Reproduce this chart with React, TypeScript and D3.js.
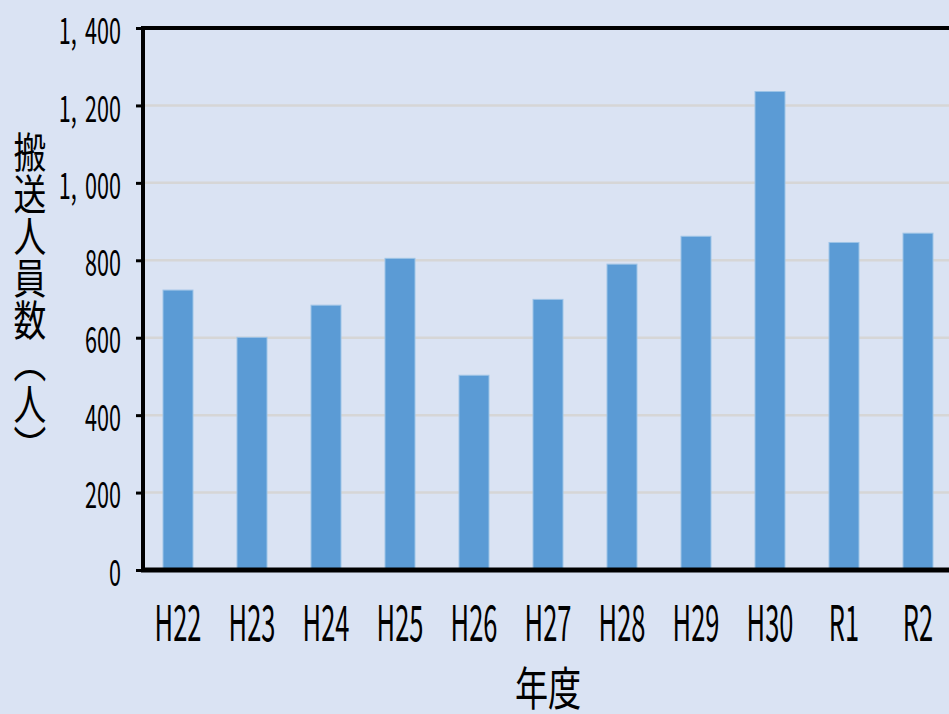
import React, { useEffect, useRef } from 'react';
import * as d3 from 'd3';

const categories = ['H22', 'H23', 'H24', 'H25', 'H26', 'H27', 'H28', 'H29', 'H30', 'R1', 'R2'];
const values = [723, 601, 684, 805, 503, 699, 790, 862, 1236, 846, 870];
const yTickValues = [0, 200, 400, 600, 800, 1000, 1200, 1400];
const yLabel = '搬送人員数（人）';
const xLabel = '年度';

const width = 949;
const height = 714;
const FONT = '"Noto Sans CJK JP", "Noto Sans", sans-serif';

const App: React.FC = () => {
  const ref = useRef<SVGSVGElement>(null);

  useEffect(() => {
    const svg = d3.select(ref.current);
    svg.selectAll('*').remove(); // clear before redraw

    const left = 141;
    const right = 955; // plot runs off the right edge
    const top = 28;
    const bottom = 570;

    const x = d3.scaleBand<string>()
      .domain(categories)
      .range([left, right])
      .paddingInner(0.595)
      .paddingOuter(0.2975);

    const y = d3.scaleLinear()
      .domain([0, 1400])
      .range([bottom, top]);

    svg.append('rect')
      .attr('width', width)
      .attr('height', height)
      .attr('fill', '#dae3f3');

    // gridlines
    svg.append('g')
      .selectAll('line')
      .data(yTickValues.filter(d => d > 0 && d < 1400))
      .enter()
      .append('line')
      .attr('x1', left)
      .attr('x2', width)
      .attr('y1', d => y(d))
      .attr('y2', d => y(d))
      .attr('stroke', '#d6d6d6')
      .attr('stroke-width', 2.5);

    // bars
    svg.append('g')
      .selectAll('rect')
      .data(values)
      .enter()
      .append('rect')
      .attr('x', (_, i) => x(categories[i])!)
      .attr('y', d => y(d))
      .attr('width', x.bandwidth())
      .attr('height', d => bottom - y(d))
      .attr('fill', '#5b9bd5')
      .attr('stroke', '#9dc3e6')
      .attr('stroke-width', 1);

    // frame: top, bottom
    svg.append('line')
      .attr('x1', left).attr('x2', width)
      .attr('y1', y(1400)).attr('y2', y(1400))
      .attr('stroke', '#000').attr('stroke-width', 4);
    svg.append('line')
      .attr('x1', left).attr('x2', width)
      .attr('y1', y(0)).attr('y2', y(0))
      .attr('stroke', '#000').attr('stroke-width', 5);

    // y axis
    const fmt = d3.format(',');
    const yAxis = d3.axisLeft(y)
      .tickValues(yTickValues)
      .tickSize(7)
      .tickFormat(d => fmt(d as number));

    const gy = svg.append('g')
      .attr('transform', `translate(${left + 2},0)`)
      .call(yAxis);
    gy.select('.domain')
      .attr('stroke', '#000')
      .attr('stroke-width', 4)
      .attr('d', `M0,${top - 2}V${bottom + 2}`);
    gy.selectAll('.tick line')
      .attr('stroke', '#000')
      .attr('stroke-width', 3);
    gy.selectAll<SVGTextElement, number>('.tick text')
      .attr('x', null)
      .attr('dy', null)
      .attr('fill', '#000')
      .style('font-family', FONT)
      .style('font-size', '36px')
      .attr('text-anchor', 'end')
      .attr('dominant-baseline', 'central')
      .attr('transform', 'translate(-22,0) scale(0.6,1)')
      .each(function (d) {
        // wider gap after the thousands comma, as in the source
        const parts = fmt(d).split(',');
        if (parts.length < 2) return;
        const t = d3.select(this);
        t.text(null);
        t.append('tspan').text(parts[0] + ',');
        t.append('tspan').attr('dx', 14).text(parts[1]);
      });

    // x labels
    svg.append('g')
      .selectAll('text')
      .data(categories)
      .enter()
      .append('text')
      .attr('transform', d => `translate(${x(d)! + x.bandwidth() / 2},641) scale(0.52,1)`)
      .attr('text-anchor', 'middle')
      .style('font-family', FONT)
      .style('font-size', '49px')
      .attr('fill', '#000')
      .text(d => d);

    // x title
    svg.append('text')
      .attr('transform', `translate(${(left + right) / 2},705) scale(0.72,1)`)
      .attr('text-anchor', 'middle')
      .style('font-family', FONT)
      .style('font-size', '46px')
      .attr('fill', '#000')
      .text(xLabel);

    // y title, vertical
    svg.append('text')
      .attr('transform', 'translate(30,131) scale(0.78,1)')
      .style('writing-mode', 'vertical-rl')
      .style('font-family', FONT)
      .style('font-size', '42px')
      .attr('fill', '#000')
      .text(yLabel);
  }, []);

  return (
    <div style={{ position: 'absolute', left: 0, top: 0 }}>
      <svg ref={ref} width={width} height={height} style={{ display: 'block' }} />
    </div>
  );
};

export default App;
